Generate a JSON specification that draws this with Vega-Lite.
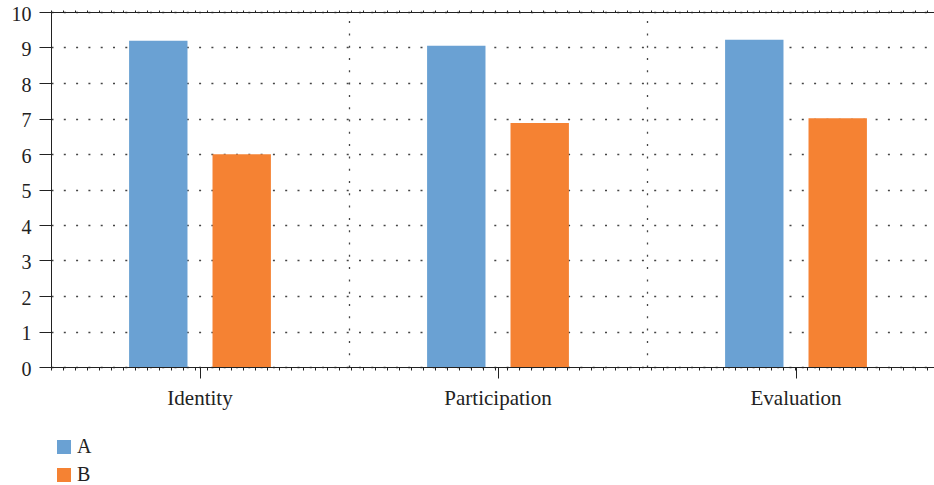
{
  "$schema": "https://vega.github.io/schema/vega-lite/v6.json",
  "width": 883,
  "height": 355,
  "autosize": {"type": "none"},
  "padding": {"left": 51, "top": 12, "right": 0, "bottom": 118},
  "background": "white",
  "config": {
    "view": {"stroke": null},
    "font": "Liberation Serif",
    "axis": {"labelFont": "Liberation Serif", "labelColor": "#222222", "domainColor": "#222222", "tickColor": "#222222"}
  },
  "datasets": {
    "scores": [
      {"dimension": "Identity", "group": "A", "score": 9.19},
      {"dimension": "Identity", "group": "B", "score": 5.99},
      {"dimension": "Participation", "group": "A", "score": 9.05},
      {"dimension": "Participation", "group": "B", "score": 6.87},
      {"dimension": "Evaluation", "group": "A", "score": 9.22},
      {"dimension": "Evaluation", "group": "B", "score": 7.01}
    ]
  },
  "data": {"name": "scores"},
  "layer": [
    {
      "mark": {"type": "bar"},
      "encoding": {
        "x": {
          "field": "dimension",
          "type": "nominal",
          "sort": ["Identity", "Participation", "Evaluation"],
          "scale": {"range": [0, 894], "paddingInner": 0, "paddingOuter": 0},
          "axis": {
            "orient": "bottom",
            "title": null,
            "labelAngle": 0,
            "labelFontSize": 21,
            "labelPadding": 9,
            "tickSize": 11,
            "grid": false
          }
        },
        "xOffset": {
          "field": "group",
          "type": "nominal",
          "scale": {"paddingInner": 0.3, "paddingOuter": 0.936}
        },
        "y": {
          "field": "score",
          "type": "quantitative",
          "scale": {"domain": [0, 10], "nice": false},
          "axis": {
            "title": null,
            "values": [0, 1, 2, 3, 4, 5, 6, 7, 8, 9, 10],
            "tickSize": 12,
            "labelPadding": 8,
            "labelFontSize": 20,
            "labelOffset": 2,
            "grid": true,
            "gridDash": [2, 10.3],
            "gridColor": "#444444",
            "gridWidth": 1.3
          }
        },
        "color": {
          "field": "group",
          "type": "nominal",
          "scale": {"domain": ["A", "B"], "range": ["#6aa1d3", "#f58233"]},
          "legend": {
            "title": null,
            "orient": "none",
            "legendX": 3,
            "legendY": 425,
            "direction": "vertical",
            "symbolType": "square",
            "symbolSize": 196,
            "symbolStrokeWidth": 0,
            "labelFontSize": 20,
            "labelFont": "Liberation Serif",
            "labelColor": "#222222",
            "labelOffset": 3,
            "rowPadding": 8
          }
        }
      }
    },
    {
      "mark": {"type": "rule", "opacity": 0},
      "encoding": {
        "x": {
          "datum": 0,
          "type": "quantitative",
          "scale": {"domain": [0, 74.5], "range": [0, 894], "nice": false, "zero": false},
          "axis": {
            "orient": "bottom",
            "title": null,
            "values": [0,1,2,3,4,5,6,7,8,9,10,11,12,13,14,15,16,17,18,19,20,21,22,23,24,25,26,27,28,29,30,31,32,33,34,35,36,37,38,39,40,41,42,43,44,45,46,47,48,49,50,51,52,53,54,55,56,57,58,59,60,61,62,63,64,65,66,67,68,69,70,71,72,73,74],
            "labels": false,
            "domain": false,
            "tickSize": 3,
            "grid": false
          }
        }
      }
    },
    {
      "mark": {"type": "rule", "opacity": 0},
      "encoding": {
        "x": {
          "datum": 0,
          "type": "quantitative",
          "scale": {"domain": [0, 3], "range": [0, 894], "nice": false, "zero": false},
          "axis": {
            "orient": "bottom",
            "title": null,
            "values": [1, 2],
            "labels": false,
            "domain": false,
            "ticks": false,
            "grid": true,
            "gridDash": [2, 10.3],
            "gridColor": "#444444",
            "gridWidth": 1.3
          }
        }
      }
    },
    {
      "mark": {"type": "rule", "opacity": 0},
      "encoding": {
        "x": {
          "datum": 0,
          "type": "quantitative",
          "scale": {"domain": [0, 74.5], "range": [0, 894], "nice": false, "zero": false},
          "axis": {
            "orient": "top",
            "title": null,
            "values": [0,1,2,3,4,5,6,7,8,9,10,11,12,13,14,15,16,17,18,19,20,21,22,23,24,25,26,27,28,29,30,31,32,33,34,35,36,37,38,39,40,41,42,43,44,45,46,47,48,49,50,51,52,53,54,55,56,57,58,59,60,61,62,63,64,65,66,67,68,69,70,71,72,73,74],
            "labels": false,
            "domain": true,
            "tickSize": 2,
            "grid": false
          }
        }
      }
    }
  ],
  "resolve": {"scale": {"x": "independent"}, "axis": {"x": "independent"}}
}
